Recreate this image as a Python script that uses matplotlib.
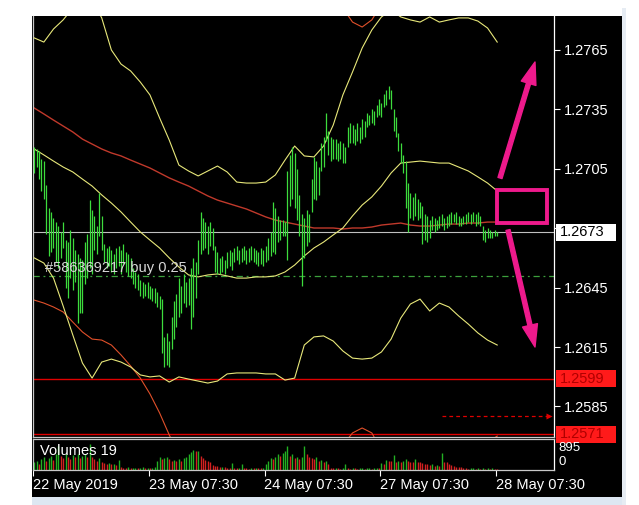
import numpy as np
import matplotlib
matplotlib.use("Agg")
import matplotlib.pyplot as plt
from matplotlib.patches import Rectangle, FancyArrowPatch
from matplotlib.transforms import IdentityTransform, blended_transform_factory

plt.rcParams['font.family'] = ['Liberation Sans', 'DejaVu Sans']

# M30 bars, 22 May 07:30 -> 28 May 07:30
bar_high = [
    1.2716, 1.2715, 1.2714, 1.2710, 1.2709, 1.2697, 1.2685, 1.2683, 1.2680, 1.2678,
    1.2676, 1.2673, 1.2678, 1.2669, 1.2668, 1.2674, 1.2670, 1.2664, 1.2662, 1.2660,
    1.2659, 1.2668, 1.2672, 1.2689, 1.2684, 1.2681, 1.2676, 1.2693, 1.2681, 1.2667,
    1.2665, 1.2666, 1.2664, 1.2662, 1.2665, 1.2666, 1.2664, 1.2667, 1.2663, 1.2662,
    1.2660, 1.2655, 1.2653, 1.2652, 1.2649, 1.2648, 1.2647, 1.2648, 1.2646, 1.2645,
    1.2645, 1.2643, 1.2641, 1.2639, 1.2620, 1.2622, 1.2618, 1.2630, 1.2638, 1.2642,
    1.2650, 1.2646, 1.2652, 1.2648, 1.2650, 1.2655, 1.2660, 1.2658, 1.2669, 1.2683,
    1.2680, 1.2678, 1.2676, 1.2678, 1.2675, 1.2666, 1.2663, 1.2660, 1.2661, 1.2659,
    1.2663, 1.2664, 1.2663, 1.2665, 1.2666, 1.2664, 1.2665, 1.2666, 1.2664, 1.2665,
    1.2666, 1.2665, 1.2664, 1.2663, 1.2665, 1.2664, 1.2666, 1.2670, 1.2673, 1.2688,
    1.2685, 1.2681, 1.2679, 1.2679, 1.2678, 1.2704, 1.2712, 1.2716, 1.2713, 1.2705,
    1.2692, 1.2682, 1.2680, 1.2684, 1.2682, 1.2700, 1.2711, 1.2709, 1.2706, 1.2718,
    1.2721, 1.2733, 1.2724, 1.2721, 1.2720, 1.2720, 1.2718, 1.2719, 1.2718, 1.2716,
    1.2726, 1.2728, 1.2727, 1.2725, 1.2728, 1.2726, 1.2730, 1.2729, 1.2733, 1.2732,
    1.2735, 1.2734, 1.2737, 1.2740, 1.2738, 1.2743, 1.2745, 1.2747, 1.2745, 1.2735,
    1.2731, 1.2723, 1.2718, 1.2712, 1.2709, 1.2698, 1.2693, 1.2691, 1.2693, 1.2690,
    1.2688, 1.2686, 1.2682, 1.2681, 1.2679, 1.2681, 1.2680, 1.2679, 1.2681, 1.2682,
    1.2680, 1.2681, 1.2682, 1.2683, 1.2682, 1.2683, 1.2681, 1.2680, 1.2681, 1.2682,
    1.2683, 1.2682, 1.2683, 1.2682, 1.2683, 1.2681, 1.2676, 1.2674, 1.2675, 1.2674,
    1.2673, 1.2674, 1.2673,
]
bar_low = [
    1.2703, 1.2706, 1.2700, 1.2694, 1.2690, 1.2672, 1.2661, 1.2663, 1.2665, 1.2658,
    1.2655, 1.2660, 1.2665, 1.2645, 1.2640, 1.2650, 1.2644, 1.2648, 1.2627, 1.2632,
    1.2632, 1.2647, 1.2650, 1.2655, 1.2652, 1.2664, 1.2662, 1.2671, 1.2664, 1.2658,
    1.2655, 1.2656, 1.2653, 1.2652, 1.2655, 1.2656, 1.2652, 1.2657, 1.2653, 1.2651,
    1.2650, 1.2647, 1.2645, 1.2644, 1.2641, 1.2640, 1.2641, 1.2640, 1.2639, 1.2638,
    1.2637, 1.2635, 1.2634, 1.2612, 1.2605, 1.2606, 1.2605, 1.2614, 1.2619, 1.2625,
    1.2630, 1.2632, 1.2637, 1.2635, 1.2636, 1.2624, 1.2630, 1.2640, 1.2652, 1.2662,
    1.2664, 1.2665, 1.2662, 1.2666, 1.2664, 1.2653, 1.2652, 1.2652, 1.2653, 1.2652,
    1.2655, 1.2656, 1.2654, 1.2658, 1.2659, 1.2657, 1.2658, 1.2659, 1.2657, 1.2658,
    1.2659, 1.2658, 1.2657, 1.2656, 1.2657, 1.2656, 1.2658, 1.2659, 1.2661, 1.2663,
    1.2662, 1.2668, 1.2669, 1.2671, 1.2671, 1.2659, 1.2686, 1.2690, 1.2685, 1.2679,
    1.2671, 1.2646, 1.2660, 1.2666, 1.2668, 1.2683, 1.2690, 1.2689, 1.2692, 1.2704,
    1.2706, 1.2719, 1.2712, 1.2709, 1.2710, 1.2710, 1.2709, 1.2710, 1.2708, 1.2708,
    1.2716, 1.2718, 1.2718, 1.2717, 1.2719, 1.2718, 1.2720, 1.2721, 1.2726, 1.2727,
    1.2728, 1.2727, 1.2731, 1.2732, 1.2731, 1.2736, 1.2737, 1.2740, 1.2735, 1.2724,
    1.2721, 1.2714, 1.2708, 1.2703, 1.2685, 1.2673, 1.2680, 1.2679, 1.2681, 1.2679,
    1.2680, 1.2667, 1.2669, 1.2668, 1.2670, 1.2674, 1.2673, 1.2674, 1.2675, 1.2676,
    1.2674, 1.2675, 1.2676, 1.2677, 1.2678, 1.2677, 1.2676, 1.2676, 1.2677, 1.2677,
    1.2678, 1.2677, 1.2678, 1.2676, 1.2677, 1.2676, 1.2669, 1.2668, 1.2670, 1.2670,
    1.2670, 1.2671, 1.2671,
]
volumes = [
    250, 300, 200, 350, 420, 300, 380, 450, 320, 500,
    760, 450, 380, 500, 420, 350, 480, 400, 520, 380,
    450, 500, 420, 820, 400, 350, 300, 380, 250, 220,
    200, 230, 180, 200, 150, 320, 90, 70, 60, 80,
    50, 60, 70, 50, 60, 80, 60, 70, 50, 60,
    90, 300, 420, 350, 380, 420, 350, 300, 330, 280,
    350, 300, 380, 420, 500, 560, 650, 600, 620, 450,
    380, 320, 280, 250, 160, 140, 120, 100, 110, 90,
    60, 50, 220, 60, 50, 70, 200, 60, 50, 40,
    60, 50, 70, 60, 50, 60, 200, 300, 380, 350,
    420, 500, 450, 550, 600, 760, 450, 500, 380, 420,
    350, 400, 780, 500, 420, 380, 350, 420, 300, 330,
    250, 280, 200, 60, 50, 60, 50, 40, 60, 200,
    50, 40, 60, 50, 40, 50, 60, 40, 50, 60,
    40, 50, 60, 50, 220, 200, 320, 300, 300, 480,
    250, 290, 260, 280, 350, 300, 260, 250, 350, 250,
    240, 220, 190, 180, 170, 200, 130, 150, 120, 540,
    260, 250, 200, 150, 120, 110, 100, 90, 60, 50,
    40, 50, 60, 40, 50, 45, 50, 40, 55, 45,
    50, 40, 30,
]

# indicator lines, one value every 4 bars
line_step = 4
bb_upper = [
    1.27711, 1.27690, 1.27756, 1.27802, 1.27862, 1.27903, 1.27903, 1.27812, 1.27650, 1.27579,
    1.27544, 1.27488, 1.27423, 1.27307, 1.27195, 1.27069, 1.27039, 1.27014, 1.27039, 1.27064,
    1.27034, 1.26983, 1.26978, 1.26978, 1.26983, 1.27019, 1.27094, 1.27165, 1.27115, 1.27110,
    1.27165, 1.27271, 1.27423, 1.27539, 1.27660, 1.27751, 1.27817, 1.27852, 1.27817, 1.27802,
    1.27791, 1.27817, 1.27791, 1.27802, 1.27812, 1.27812, 1.27796, 1.27761, 1.27690,
]
bb_middle = [
    1.27150, 1.27120, 1.27089, 1.27059, 1.27034, 1.26998, 1.26963, 1.26918, 1.26877, 1.26832,
    1.26781, 1.26731, 1.26690, 1.26650, 1.26600, 1.26554, 1.26514, 1.26504, 1.26514, 1.26519,
    1.26509, 1.26498, 1.26498, 1.26504, 1.26504, 1.26509, 1.26529, 1.26564, 1.26610, 1.26650,
    1.26680, 1.26716, 1.26751, 1.26812, 1.26867, 1.26908, 1.26963, 1.27029, 1.27079, 1.27084,
    1.27089, 1.27084, 1.27079, 1.27079, 1.27059, 1.27039, 1.27009, 1.26978, 1.26938,
]
bb_lower = [
    1.26600, 1.26574, 1.26498, 1.26357, 1.26211, 1.26069, 1.25993, 1.26074, 1.26089, 1.26074,
    1.26049, 1.26009, 1.25999, 1.26004, 1.25973, 1.25999, 1.25988, 1.25978, 1.25968, 1.25978,
    1.26014, 1.26019, 1.26019, 1.26019, 1.26014, 1.26014, 1.25983, 1.25993, 1.26160, 1.26201,
    1.26206, 1.26180, 1.26130, 1.26094, 1.26089, 1.26094, 1.26125, 1.26190, 1.26296, 1.26367,
    1.26392, 1.26332, 1.26372, 1.26352, 1.26307, 1.26266, 1.26221, 1.26185, 1.26160,
]
ma_slow = [
    1.27357, 1.27327, 1.27296, 1.27266, 1.27236, 1.27200, 1.27175, 1.27150, 1.27130, 1.27115,
    1.27094, 1.27074, 1.27054, 1.27029, 1.27004, 1.26983, 1.26963, 1.26938, 1.26913, 1.26892,
    1.26877, 1.26862, 1.26847, 1.26827, 1.26807, 1.26791, 1.26781, 1.26771, 1.26761, 1.26751,
    1.26751, 1.26751, 1.26746, 1.26751, 1.26751, 1.26756, 1.26766, 1.26771, 1.26776, 1.26766,
    1.26761, 1.26761, 1.26766, 1.26771, 1.26771, 1.26776, 1.26776, 1.26781, 1.26781,
]
env_upper = [
    1.2860, 1.2858, 1.2855, 1.2852, 1.2849, 1.2846, 1.2843, 1.2840, 1.2837, 1.2834,
    1.2831, 1.2828, 1.2825, 1.2822, 1.2819, 1.2816, 1.2813, 1.2810, 1.2808, 1.2806,
    1.2804, 1.2802, 1.2800, 1.2798, 1.2796, 1.2795, 1.2794, 1.2793, 1.2792, 1.2791,
    1.2790, 1.2789, 1.27862, 1.27791, 1.27766, 1.27802, 1.2788, 1.2791, 1.2793, 1.2794,
    1.2795, 1.2796, 1.2797, 1.2797, 1.2798, 1.2798, 1.2799, 1.2799, 1.2800,
]
env_lower = [
    1.26387, 1.26372, 1.26352, 1.26327, 1.26276, 1.26226, 1.26190, 1.26185, 1.26160, 1.26110,
    1.26054, 1.25993, 1.25913, 1.25817, 1.25706, 1.25605, 1.2552, 1.2546, 1.2542, 1.2540,
    1.2540, 1.2542, 1.2545, 1.2548, 1.2551, 1.2554, 1.2557, 1.2560, 1.2562, 1.2564,
    1.2566, 1.2567, 1.25655, 1.25716, 1.25741, 1.25716, 1.2563, 1.2558, 1.2556, 1.2555,
    1.2555, 1.2556, 1.2557, 1.2559, 1.2561, 1.2563, 1.2565, 1.2567, 1.2570,
]

price_ticks = [1.2765, 1.2735, 1.2705, 1.2675, 1.2645, 1.2615, 1.2585]
# 1.2675 sits under the bid box, so its label is not shown
price_labels = ['1.2765', '1.2735', '1.2705', '', '1.2645', '1.2615', '1.2585']
time_labels = ['22 May 2019', '23 May 07:30', '24 May 07:30', '27 May 07:30', '28 May 07:30']
bars_per_day = 48
bid_price = 1.2673
order_price = 1.26509
order_text = '#586369217 buy 0.25'
sl_price = 1.2599
tp_price = 1.2571
arrow_price = 1.2580
vol_max = 895

GREEN = '#3ddc3d'
BAND = '#e8e87a'
PINK = '#ee1a8c'
FS = 10.5

fig = plt.figure(figsize=(6.39, 5.05), dpi=100, facecolor='white')
W, H = 639, 505

# terminal window background
fig.add_artist(Rectangle((32, 8), 590, 481, transform=IdentityTransform(),
                         fc='black', ec='none', zorder=-10))
fig.add_artist(Rectangle((32, 0), 590, 8, transform=IdentityTransform(),
                         fc='#dde7f2', ec='none', zorder=-10))
fig.add_artist(Rectangle((622, 0), 4, 497, transform=IdentityTransform(),
                         fc='#e6ecf3', ec='none', zorder=-10))

ax = fig.add_axes([33 / W, (H - 437) / H, 521 / W, 421 / H])
axv = fig.add_axes([33 / W, (H - 470) / H, 521 / W, 31 / H])
px_per_bar = 115.75 / bars_per_day
xmax = -0.5 + 521 / px_per_bar

for a in (ax, axv):
    a.set_facecolor('black')
    a.set_xlim(-0.5, xmax)
    for s in ('left', 'bottom', 'top'):
        a.spines[s].set_color('#c8c8c8')
        a.spines[s].set_linewidth(0.9)
    a.spines['right'].set_color('white')
    a.spines['right'].set_linewidth(0.9)
ax.spines['top'].set_visible(False)

n = len(bar_high)
xb = np.arange(n)
xl = np.arange(0, n, line_step)

ax.set_ylim(1.256955, 1.278217)

# indicator lines
ax.plot(xl, env_upper, color='#e0502a', lw=0.8, zorder=2)
ax.plot(xl, env_lower, color='#e0502a', lw=0.8, zorder=2)
ax.plot(xl, ma_slow, color='#c0392b', lw=1.0, zorder=2)
for band in (bb_upper, bb_middle, bb_lower):
    ax.plot(xl, band, color=BAND, lw=0.8, zorder=3)

# horizontal levels
ax.axhline(bid_price, color='#c0c0c0', lw=0.8, zorder=1)
ax.axhline(order_price, color='#3ca03c', lw=0.9, ls=(0, (5, 3, 1.5, 3)), zorder=1)
ax.axhline(sl_price, color='#e00000', lw=1.0, zorder=1)
ax.axhline(tp_price, color='#e00000', lw=1.0, zorder=1)
ax.hlines(arrow_price, 169, 212.5, color='#e00000', lw=0.9, ls=(0, (3, 2.5)), zorder=1)
ax.plot([213.3], [arrow_price], marker='>', ms=5, color='#e00000', mec='none', zorder=1)

# price bars
ax.vlines(xb, bar_low, bar_high, colors=GREEN, lw=0.9, zorder=4)

ax.text(4.5, order_price + 0.0004, order_text, color='#d8d8d8', fontsize=FS,
        va='center', ha='left', zorder=6)

# price axis
ax.set_xticks([])
ax.yaxis.tick_right()
ax.set_yticks(price_ticks)
ax.set_yticklabels(price_labels)
ax.tick_params(axis='y', colors='white', length=4, width=0.8, labelsize=FS, pad=3)

bt = blended_transform_factory(ax.transAxes, ax.transData)
box_h = 17 / 19800
for price, fc, tc in ((bid_price, 'white', 'black'),
                      (sl_price, '#ff1a1a', '#b00000'),
                      (tp_price, '#ff1a1a', '#b00000')):
    ax.add_patch(Rectangle((1.0038, price - box_h / 2), 0.115, box_h, transform=bt,
                           fc=fc, ec='none', clip_on=False, zorder=10))
    ax.text(1.0115, price, f'{price:.4f}', transform=bt, color=tc, fontsize=FS,
            va='center', ha='left', clip_on=False, zorder=11)

# volumes
vcol = ['#22b022' if i > 0 and volumes[i] > volumes[i - 1] else '#d42020' for i in range(n)]
vcol[0] = '#22b022'
axv.vlines(xb, 0, volumes, colors=vcol, lw=1.0)
axv.set_ylim(0, vol_max * 31 / 28)
axv.set_yticks([])
axv.text(0.0134, 0.60, 'Volumes 19', transform=axv.transAxes, color='white',
         fontsize=FS, va='center', ha='left')
axv.text(1.0077, 0.72, str(vol_max), transform=axv.transAxes, color='white',
         fontsize=9.5, va='center', ha='left', clip_on=False)
axv.text(1.0077, 0.27, '0', transform=axv.transAxes, color='white',
         fontsize=9.5, va='center', ha='left', clip_on=False)

axv.set_xticks([-0.5 + bars_per_day * k for k in range(len(time_labels))])
axv.set_xticklabels(time_labels, ha='left')
axv.tick_params(axis='x', colors='white', length=4, width=0.8, labelsize=FS, pad=2)

# pink annotation drawn over the screenshot
fig.add_artist(Rectangle((497, H - 223), 50, 33, transform=IdentityTransform(),
                         fill=False, ec=PINK, lw=2.8, zorder=20))
style = 'simple,head_length=1.6,head_width=1.1,tail_width=0.3'
fig.add_artist(FancyArrowPatch((500, H - 178), (535, H - 62), transform=IdentityTransform(),
                               arrowstyle=style, mutation_scale=10, color=PINK,
                               shrinkA=0, shrinkB=0, zorder=20))
fig.add_artist(FancyArrowPatch((508, H - 230), (535, H - 347), transform=IdentityTransform(),
                               arrowstyle=style, mutation_scale=10, color=PINK,
                               shrinkA=0, shrinkB=0, zorder=20))

fig.savefig('out.png', dpi=100, facecolor='white')
